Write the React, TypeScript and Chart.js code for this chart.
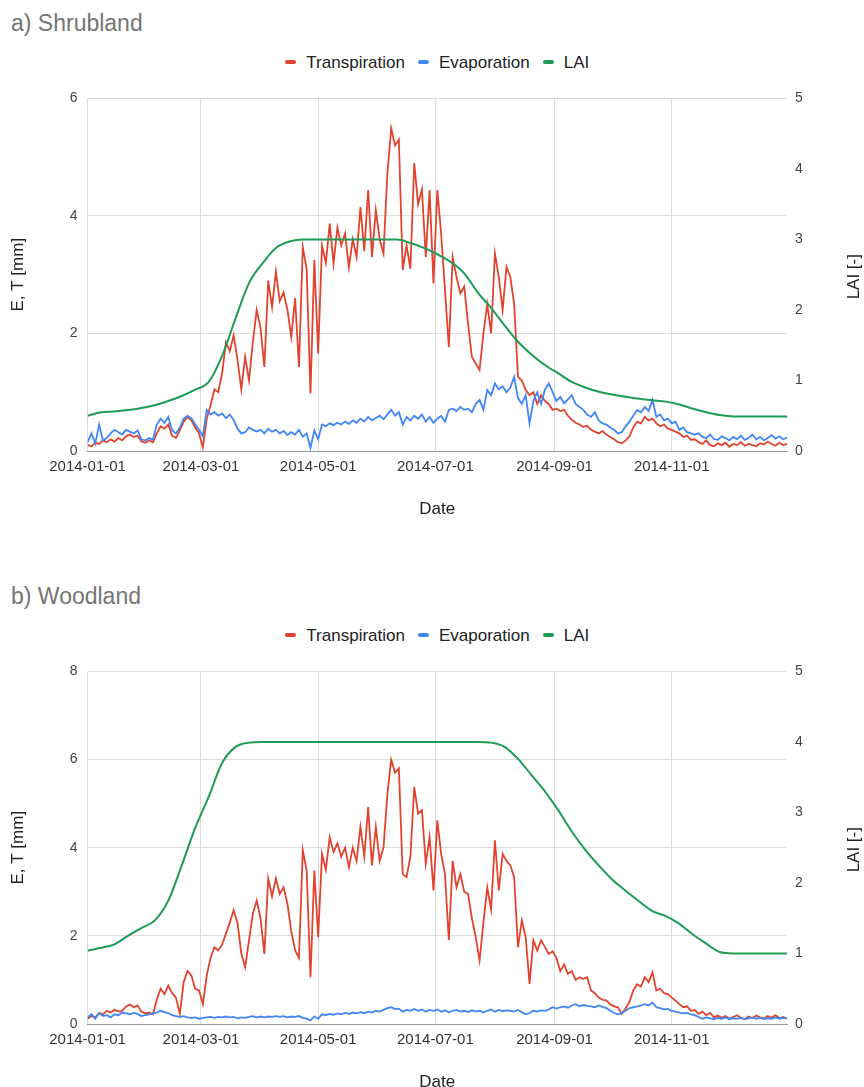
import { useEffect, useRef } from "react";
import { Chart, registerables } from "chart.js";

Chart.register(...registerables);

// ---------- DATA ----------
const tickDays = [0, 59, 120, 181, 243, 304];
const tickLabels = ["2014-01-01", "2014-03-01", "2014-05-01", "2014-07-01", "2014-09-01", "2014-11-01"];
const seriesNames = ["Transpiration", "Evaporation", "LAI"];
const leftAxisTitle = "E, T [mm]";
const rightAxisTitle = "LAI [-]";
const xAxisTitle = "Date";
const panelTitles = ["a) Shrubland", "b) Woodland"];
const dailyStep = 2; // days between E/T samples
const laiStep = 7; // days between LAI samples

const shrubTranspiration = [
  0.10, 0.08, 0.14, 0.12, 0.18, 0.15,
  0.20, 0.16, 0.22, 0.18, 0.25, 0.28, 0.24, 0.26,
  0.16, 0.14, 0.18, 0.15,
  0.30, 0.42, 0.38, 0.45,
  0.26, 0.22, 0.35,
  0.50, 0.58, 0.52, 0.40,
  0.30, 0.06, 0.55, 0.78,
  1.05, 1.00, 1.32, 1.85, 1.70, 1.97,
  1.55, 1.05, 1.60, 1.20, 1.85, 2.40, 2.10,
  1.43, 2.90, 2.45, 3.05,
  2.55, 2.70, 2.40, 1.94, 2.60, 1.43,
  3.47, 3.10, 0.98, 3.25, 1.66,
  3.50, 3.20, 3.87, 3.19, 3.80, 3.50, 3.70,
  3.13, 3.60, 3.30, 4.15, 3.40, 4.44, 3.30,
  4.10, 3.60, 3.36, 4.72, 5.49, 5.20, 5.30,
  3.08, 3.50, 3.10, 4.90, 4.20, 4.45,
  3.30, 4.44, 2.85, 4.44, 3.70, 2.74,
  1.77, 3.30, 2.96, 2.68, 2.80,
  2.17, 1.60, 1.49, 1.38, 2.00, 2.50, 2.00,
  3.36, 2.96, 2.40, 3.13, 2.96, 2.50, 1.26,
  1.20, 1.04, 0.95, 1.00, 0.80, 0.95, 0.85, 0.80, 0.70,
  0.72, 0.68, 0.70, 0.60, 0.53, 0.48, 0.45, 0.41, 0.43,
  0.36, 0.33, 0.30, 0.34, 0.28, 0.24, 0.20, 0.15, 0.13, 0.18, 0.25,
  0.40, 0.50, 0.47, 0.58, 0.52, 0.55, 0.47, 0.42, 0.45, 0.38, 0.36, 0.33,
  0.30, 0.24, 0.26, 0.19, 0.20,
  0.15, 0.12, 0.18, 0.10, 0.08, 0.13, 0.10, 0.14, 0.07, 0.12, 0.10, 0.15,
  0.09, 0.12, 0.10, 0.08, 0.13, 0.11, 0.16, 0.12, 0.09, 0.14, 0.10, 0.12,
];

const shrubEvaporation = [
  0.15, 0.30, 0.13, 0.45, 0.18, 0.22,
  0.30, 0.36, 0.32, 0.28, 0.36, 0.33, 0.30, 0.35,
  0.20, 0.18, 0.22, 0.19,
  0.45, 0.55, 0.48, 0.58,
  0.35, 0.30, 0.40,
  0.55, 0.60, 0.56, 0.45,
  0.36, 0.25, 0.70, 0.62,
  0.66, 0.60, 0.64, 0.56, 0.62, 0.53,
  0.38, 0.30, 0.32, 0.40, 0.36, 0.33, 0.36,
  0.30, 0.38, 0.33, 0.36,
  0.30, 0.34, 0.27, 0.32, 0.28, 0.36,
  0.24, 0.30, 0.05, 0.35, 0.20,
  0.45, 0.42, 0.47, 0.44, 0.48, 0.45, 0.50,
  0.46, 0.52, 0.48, 0.55, 0.50, 0.58, 0.52,
  0.56, 0.60, 0.54, 0.62, 0.70, 0.60, 0.66,
  0.45, 0.58, 0.52, 0.60, 0.55, 0.62,
  0.50, 0.58, 0.48, 0.55, 0.60, 0.50,
  0.70, 0.72, 0.68, 0.75, 0.70,
  0.72, 0.66, 0.80, 0.87, 0.70, 1.04, 0.95,
  1.15, 1.05, 1.10, 1.00, 1.08, 1.26, 0.90,
  0.80, 0.95, 0.47, 0.85, 1.00, 0.80, 1.04, 1.15, 1.00,
  0.85, 0.92, 0.81, 0.88, 0.95, 0.80, 0.75, 0.70, 0.62,
  0.58, 0.66, 0.52, 0.47, 0.45, 0.40, 0.36, 0.30, 0.32, 0.42, 0.50,
  0.60, 0.70, 0.66, 0.75, 0.68, 0.87, 0.58, 0.62, 0.52, 0.55, 0.47, 0.50,
  0.36, 0.40, 0.32, 0.30, 0.28,
  0.30, 0.24, 0.22, 0.28, 0.20, 0.19, 0.25, 0.22, 0.18, 0.24, 0.20, 0.26,
  0.19, 0.22, 0.28, 0.20, 0.24, 0.18, 0.22, 0.27, 0.21, 0.25, 0.20, 0.23,
];

const shrubLai = [
  0.50, 0.55, 0.56, 0.58, 0.61, 0.65, 0.71, 0.78, 0.87, 0.98, 1.35, 1.88, 2.38, 2.66, 2.88, 2.97, 3.00,
  3.00, 3.00, 3.00, 3.00, 3.00, 3.00, 3.00,
  2.95, 2.88, 2.79, 2.68, 2.52, 2.25, 2.03, 1.78, 1.55, 1.37, 1.22, 1.10,
  0.98, 0.90, 0.84, 0.80, 0.77, 0.74, 0.72, 0.70, 0.66, 0.60, 0.55, 0.51,
  0.49, 0.49, 0.49, 0.49, 0.49,
];

const woodTranspiration = [
  0.12, 0.18, 0.15, 0.25, 0.22, 0.30,
  0.26, 0.32, 0.28, 0.30, 0.40, 0.44, 0.38, 0.42,
  0.28, 0.24, 0.26, 0.22,
  0.55, 0.80, 0.68, 0.87,
  0.70, 0.60, 0.23,
  0.95, 1.20, 1.10, 0.80,
  0.76, 0.45, 1.10, 1.50,
  1.74, 1.67, 1.80, 2.05, 2.30, 2.58,
  2.30, 1.60, 1.29, 1.90, 2.50, 2.80, 2.40,
  1.59, 3.30, 2.90, 3.30,
  2.95, 3.10, 2.73, 2.10, 1.67, 1.50,
  3.94, 3.48, 1.06, 3.48, 1.97,
  3.86, 3.50, 4.24, 3.90, 4.10, 3.80, 4.00,
  3.56, 4.00, 3.70, 4.47, 3.80, 4.92, 3.60,
  4.47, 3.70, 4.00, 5.20, 6.00, 5.70, 5.80,
  3.40, 3.33, 3.80, 5.38, 4.77, 4.85,
  3.64, 4.24, 3.03, 4.62, 3.86, 3.40,
  1.90, 3.70, 3.10, 3.40, 3.00,
  2.95, 2.40, 1.97, 1.44, 2.30, 3.10, 2.60,
  4.17, 3.03, 3.86, 3.70, 3.60, 3.33, 1.74,
  2.35, 1.97, 0.91, 1.90, 1.67, 1.90, 1.75, 1.59, 1.65,
  1.50, 1.20, 1.35, 1.14, 1.20, 1.00, 1.06, 1.02, 1.06,
  0.76, 0.70, 0.60, 0.55, 0.53, 0.45, 0.40, 0.38, 0.23, 0.35, 0.50,
  0.76, 0.90, 0.85, 1.06, 0.95, 1.17, 0.76, 0.80, 0.70, 0.68, 0.60, 0.53,
  0.45, 0.38, 0.40, 0.30, 0.32,
  0.23, 0.28, 0.20, 0.25, 0.15, 0.19, 0.14, 0.18, 0.12, 0.16, 0.20, 0.14,
  0.11, 0.17, 0.13, 0.19, 0.15, 0.12, 0.18, 0.14, 0.20, 0.13, 0.16, 0.12,
];

const woodEvaporation = [
  0.15, 0.22, 0.12, 0.25, 0.18, 0.20,
  0.15, 0.22, 0.20, 0.26, 0.24, 0.22, 0.25, 0.23,
  0.18, 0.20, 0.22, 0.24,
  0.26, 0.30, 0.27, 0.25,
  0.20, 0.18, 0.16,
  0.18, 0.15, 0.14, 0.15,
  0.12, 0.14, 0.15, 0.16,
  0.14, 0.16, 0.15, 0.17, 0.15, 0.16,
  0.13, 0.15, 0.14, 0.16, 0.18, 0.15, 0.17,
  0.15, 0.17, 0.16, 0.18,
  0.16, 0.18, 0.15, 0.17, 0.16, 0.18,
  0.14, 0.12, 0.08, 0.17, 0.12,
  0.22, 0.20, 0.23, 0.21, 0.24, 0.22, 0.25,
  0.23, 0.26, 0.24, 0.27, 0.25, 0.28, 0.26,
  0.30, 0.28, 0.32, 0.36, 0.38, 0.34, 0.35,
  0.28, 0.32, 0.30, 0.34, 0.30, 0.33,
  0.28, 0.32, 0.30, 0.33, 0.28, 0.31,
  0.26, 0.30, 0.32, 0.28, 0.30,
  0.27, 0.31, 0.28, 0.30, 0.26, 0.30, 0.33,
  0.28, 0.32, 0.29, 0.31, 0.30, 0.28, 0.32,
  0.27, 0.22, 0.25, 0.30, 0.28, 0.31, 0.30, 0.33, 0.38,
  0.35, 0.38, 0.40, 0.37, 0.42, 0.45, 0.40, 0.43, 0.41,
  0.40, 0.38, 0.42, 0.39, 0.36, 0.30, 0.25, 0.22, 0.25, 0.30, 0.36,
  0.38, 0.40, 0.42, 0.45, 0.42, 0.49, 0.38, 0.36, 0.33, 0.34, 0.30, 0.28,
  0.26, 0.24, 0.25, 0.22, 0.20,
  0.16, 0.12, 0.15, 0.13, 0.11, 0.14, 0.12, 0.15, 0.11, 0.13, 0.12, 0.14,
  0.11, 0.13, 0.15, 0.12, 0.14, 0.11, 0.13, 0.12, 0.15, 0.12, 0.14, 0.13,
];

const woodLai = [
  1.04, 1.08, 1.13, 1.25, 1.36, 1.47, 1.75, 2.25, 2.78, 3.22, 3.70, 3.93, 3.99,
  4.00, 4.00, 4.00, 4.00, 4.00, 4.00, 4.00, 4.00, 4.00, 4.00, 4.00, 4.00, 4.00, 4.00, 4.00, 4.00, 4.00,
  3.99, 3.93, 3.76, 3.53, 3.30, 3.03, 2.73, 2.47, 2.25, 2.05, 1.89, 1.74, 1.60, 1.53, 1.42, 1.27, 1.14, 1.02,
  1.00, 1.00, 1.00, 1.00, 1.00,
];

// ---------- STYLE ----------
const FONT = '"Liberation Sans", Arial, sans-serif';
const COLORS = ["#e2432f", "#4285f4", "#1e9b54"];
const GRID = "#dcdcdc";
const TEXT = "#444";

Chart.defaults.font.family = FONT;

const toPoints = (values: number[], step: number) => values.map((y, i) => ({ x: i * step, y }));

const rightTitlePlugin = {
  id: "rightTitle",
  afterDraw(chart: any) {
    const { ctx, chartArea } = chart;
    ctx.save();
    ctx.font = `17px ${FONT}`;
    ctx.fillStyle = "#222";
    ctx.textAlign = "center";
    ctx.textBaseline = "middle";
    ctx.translate(854, (chartArea.top + chartArea.bottom) / 2 + 2);
    ctx.rotate(-Math.PI / 2);
    ctx.fillText(rightAxisTitle, 0, 0);
    ctx.restore();
  },
};

type PanelProps = {
  top: number;
  title: string;
  transp: number[];
  evap: number[];
  lai: number[];
  yMax: number;
};

function Panel({ top, title, transp, evap, lai, yMax }: PanelProps) {
  const ref = useRef<HTMLCanvasElement>(null);

  useEffect(() => {
    const chart = new Chart(ref.current as HTMLCanvasElement, {
      type: "line",
      data: {
        datasets: [
          {
            label: seriesNames[0],
            data: toPoints(transp, dailyStep),
            borderColor: COLORS[0],
            backgroundColor: COLORS[0],
            borderWidth: 1.8,
            pointRadius: 0,
            tension: 0,
            yAxisID: "y",
            order: 3,
          },
          {
            label: seriesNames[1],
            data: toPoints(evap, dailyStep),
            borderColor: COLORS[1],
            backgroundColor: COLORS[1],
            borderWidth: 1.8,
            pointRadius: 0,
            tension: 0,
            yAxisID: "y",
            order: 2,
          },
          {
            label: seriesNames[2],
            data: toPoints(lai, laiStep),
            borderColor: COLORS[2],
            backgroundColor: COLORS[2],
            borderWidth: 2,
            pointRadius: 0,
            cubicInterpolationMode: "monotone",
            yAxisID: "y1",
            order: 1,
          },
        ],
      },
      options: {
        animation: false,
        responsive: false,
        maintainAspectRatio: false,
        layout: { padding: { top: 18, left: 0, right: 0, bottom: 0 } },
        plugins: {
          legend: { display: false },
          tooltip: { enabled: false },
        },
        scales: {
          x: {
            type: "linear",
            min: 0,
            max: 364,
            afterBuildTicks: (s: any) => {
              s.ticks = tickDays.map((v) => ({ value: v }));
            },
            afterFit: (s: any) => {
              s.height = 79;
            },
            ticks: {
              autoSkip: false,
              maxRotation: 0,
              color: "#333",
              font: { size: 15 },
              padding: 7,
              callback: (_v: any, i: number) => tickLabels[i],
            },
            grid: { color: GRID, drawTicks: false },
            border: { color: "#9a9a9a" },
            title: {
              display: true,
              text: xAxisTitle,
              color: "#222",
              font: { size: 17 },
              padding: { top: 0, bottom: 10 },
            },
          },
          y: {
            type: "linear",
            position: "left",
            min: 0,
            max: yMax,
            afterFit: (s: any) => {
              s.width = 87.6;
            },
            ticks: { stepSize: 2, color: TEXT, font: { size: 14 }, padding: 10 },
            grid: { color: GRID, drawTicks: false },
            border: { display: false },
            title: {
              display: true,
              text: leftAxisTitle,
              color: "#222",
              font: { size: 17 },
              padding: { top: 8, bottom: 0 },
            },
          },
          y1: {
            type: "linear",
            position: "right",
            min: 0,
            max: 5,
            afterFit: (s: any) => {
              s.width = 864 - 787;
            },
            ticks: { stepSize: 1, color: TEXT, font: { size: 14 }, padding: 8 },
            grid: { display: false, drawTicks: false },
            border: { display: false },
          },
        },
      } as any,
      plugins: [rightTitlePlugin],
    });
    return () => chart.destroy();
  }, []);

  return (
    <div style={{ position: "absolute", left: 0, top, width: 864, height: 530 }}>
      <div
        style={{
          position: "absolute",
          left: 11,
          top: 12,
          font: `23px ${FONT}`,
          lineHeight: "23px",
          color: "#757575",
          whiteSpace: "nowrap",
        }}
      >
        {title}
      </div>
      <div
        style={{
          position: "absolute",
          left: 87.6,
          width: 699.4,
          top: 53.6,
          height: 17,
          display: "flex",
          justifyContent: "center",
          alignItems: "center",
          font: `17px ${FONT}`,
          lineHeight: "17px",
          color: "#222",
          whiteSpace: "nowrap",
        }}
      >
        {seriesNames.map((name, i) => (
          <div key={name} style={{ display: "flex", alignItems: "center", marginRight: i < seriesNames.length - 1 ? 13 : 0 }}>
            <span
              style={{
                display: "inline-block",
                width: 11,
                height: 4,
                borderRadius: 2,
                background: COLORS[i],
                marginRight: 10,
              }}
            />
            <span>{name}</span>
          </div>
        ))}
      </div>
      <canvas ref={ref} width={864} height={450} style={{ position: "absolute", left: 0, top: 80 }} />
    </div>
  );
}

export default function App() {
  return (
    <div
      style={{
        position: "absolute",
        left: 0,
        top: 0,
        width: 864,
        height: 1087,
        overflow: "hidden",
        background: "#fff",
      }}
    >
      <Panel top={0} title={panelTitles[0]} transp={shrubTranspiration} evap={shrubEvaporation} lai={shrubLai} yMax={6} />
      <Panel top={573} title={panelTitles[1]} transp={woodTranspiration} evap={woodEvaporation} lai={woodLai} yMax={8} />
    </div>
  );
}
